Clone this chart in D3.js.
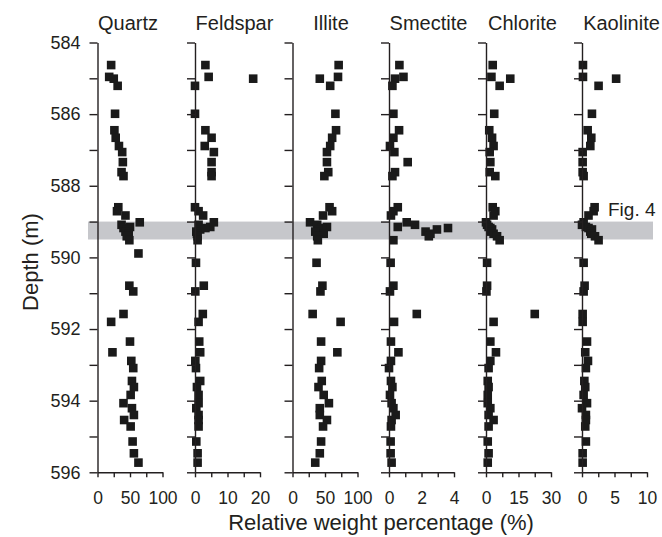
<!DOCTYPE html>
<html>
<head>
<meta charset="utf-8">
<script src="https://cdn.jsdelivr.net/npm/d3@7"></script>
<style>
  html, body { margin: 0; padding: 0; background: #fff; }
  svg { display: block; }
  text { font-family: "Liberation Sans", Arial, Helvetica, sans-serif; fill: #231f20; }
</style>
</head>
<body>
<svg id="chart" width="662" height="537"></svg>
<script>
// ---------------- DATA ----------------
const depths = [
  584.63, 584.96, 585.01, 585.21, 585.99, 586.45, 586.66, 586.89, 587.06, 587.34, 587.62, 587.73,
  588.60, 588.71, 588.83, 589.02, 589.09, 589.15, 589.18, 589.22, 589.28, 589.34, 589.41, 589.52,
  589.89, 590.15, 590.79, 590.95, 591.58, 591.80, 592.35, 592.65, 592.89, 593.09, 593.45, 593.62,
  593.84, 594.07, 594.21, 594.40, 594.54, 594.72, 595.14, 595.47, 595.73
];
const quartz = [
  21, 18, 25, 31, 27, 26, 28, 33, 38, 39, 37, 40,
  32, 30, 43, 65, 37, 50, 40, 45, 43, 48, 45, 49,
  63, null, 49, 55, 40, 21, 50, 23, 52, 55, 53, 56,
  51, 40, 53, 56, 41, 51, 54, 56, 63
];
const feldspar = [
  3.2, 4.2, 17.9, 0, 0, 3.2, 5.1, 3.0, 5.8, 5.1, 5.1, 5.1,
  0, 1.1, 2.5, 5.8, 1.1, 4.7, 3.2, 1.6, 0.4, 0.6, 0.8, 0.8,
  null, 0.3, 2.7, 0.1, 2.4, 1.1, 1.3, 1.6, 0.1, 0.3, 1.6, 0.6,
  1.1, 1.1, 0.4, 1.1, 1.1, 1.1, 0.4, 0.8, 0.8
];
const illite = [
  71, 70, 42, 58, 66, 67, 61, 58, 53, 53, 55, 49,
  57, 61, 47, 27, 38, 53, 45, 40, 35, 48, 38, 39,
  null, 37, 46, 43, 31, 74, 44, 69, 44, 41, 45, 40,
  48, 56, 42, 42, 53, 47, 44, 42, 35
];
const smectite = [
  0.64, 0.89, 0.37, 0.21, 0.27, 0.62, 0.27, 0.06, 0.33, 1.15, 0.37, 0.21,
  0.54, 0.27, 0.12, 1.09, 1.6, 0.54, 3.63, 2.95, 2.25, 2.55, 2.45, 0.27,
  null, 0.1, 0.27, 0.06, 1.71, 0.31, 0.12, 0.58, 0.12, 0.0, 0.12, 0.21,
  0.06, 0.16, 0.27, 0.41, 0.16, 0.12, 0.1, 0.1, 0.16
];
const chlorite = [
  3.1, 2.5, 11.2, 6.3, 3.8, 1.5, 2.8, 3.5, 1.7, 2.0, 1.7, 4.3,
  3.1, 4.3, 3.5, 0, 0.5, 1.2, 2.0, 2.8, 2.3, 3.5, 5.1, 6.3,
  null, 0.5, 0.5, 0.2, 22.5, 3.5, 2.0, 4.6, 2.0, 1.2, 0.8, 1.2,
  0.8, 0.8, 2.0, 1.2, 3.5, 1.2, 0.8, 1.2, 0.8
];
const kaolinite = [
  0.15, 0.15, 5.25, 2.55, 1.53, 0.87, 1.43, 1.28, 0.1, 0.1, 0.1, 0.25,
  1.94, 1.79, 1.0, 0.25, 0, 0.6, 1.0, 1.53, 1.28, 1.43, 2.0, 2.55,
  null, 0.25, 0.4, 0.25, 0.1, 0.1, 0.77, 0.5, 0.92, 0.6, 0.36, 0.5,
  0.25, 0.77, 0, 0.6, 0.6, 0.5, 0.6, 0.1, 0.1
];
const minerals = ["Quartz", "Feldspar", "Illite", "Smectite", "Chlorite", "Kaolinite"];
const seriesValues = [quartz, feldspar, illite, smectite, chlorite, kaolinite];
const xMax = [100, 20, 100, 4, 30, 10];
const xTickStep = [25, 5, 25, 1, 7.5, 2.5];
const xLabelStep = [50, 10, 50, 2, 15, 5];
const depthTicks = d3.range(584, 597, 1);
const depthLabels = [584, 586, 588, 590, 592, 594, 596];
const band = [589.0, 589.5];
const bandLabel = "Fig. 4";
const xTitle = "Relative weight percentage (%)";
const yTitle = "Depth (m)";

// ---------------- LAYOUT ----------------
const panelX = [97.5, 195, 292.5, 389, 486, 582];
const panelW = 65;
const titleShift = [-2, 7, 6, 7, 4, 7];
const svg = d3.select("#chart");
const y = d3.scaleLinear().domain([584, 596]).range([42.5, 472.3]);
const ink = "#231f20";
const isLabel = (d, step) => Math.abs(d / step - Math.round(d / step)) < 1e-6;

// band
svg.append("rect")
  .attr("x", 88).attr("width", 653 - 88)
  .attr("y", y(band[0])).attr("height", y(band[1]) - y(band[0]))
  .attr("fill", "#c6c7cb");
svg.append("text")
  .attr("x", 608).attr("y", 216)
  .attr("font-size", 19)
  .text(bandLabel);

minerals.forEach((name, i) => {
  const x = d3.scaleLinear().domain([0, xMax[i]]).range([panelX[i], panelX[i] + panelW]);
  const g = svg.append("g");

  // points
  const pts = depths.map((d, k) => ({ d, v: seriesValues[i][k] })).filter(p => p.v !== null);
  const s = 8.6;
  g.selectAll("rect.pt").data(pts).enter().append("rect")
    .attr("class", "pt")
    .attr("x", p => x(p.v) - s / 2)
    .attr("y", p => y(p.d) - s / 2)
    .attr("width", s).attr("height", s)
    .attr("fill", "#1a1a1a");

  // y axis
  const yAxis = d3.axisLeft(y)
    .tickValues(depthTicks)
    .tickSize(8).tickSizeOuter(0).tickPadding(9)
    .tickFormat(d => (i === 0 && depthLabels.includes(d)) ? d3.format("d")(d) : "");
  const ya = svg.append("g").attr("transform", `translate(${panelX[i]},0)`).call(yAxis);
  ya.selectAll("path, line").attr("stroke", ink).attr("stroke-width", 1.4);
  ya.selectAll("text").attr("font-size", 18).attr("fill", ink)
    .attr("font-family", "'Liberation Sans', Arial, sans-serif");
  ya.selectAll("text").filter(function () { return this.textContent === ""; }).remove();

  // x axis
  const xt = d3.range(0, xMax[i] + 1e-9, xTickStep[i]);
  const xAxis = d3.axisBottom(x)
    .tickValues(xt)
    .tickSize(5).tickSizeOuter(0)
    .tickFormat(d => isLabel(d, xLabelStep[i]) ? d3.format("d")(d) : "");
  const xa = svg.append("g").attr("transform", `translate(0,${y(596)})`).call(xAxis);
  xa.selectAll("path, line").attr("stroke", ink).attr("stroke-width", 1.4);
  xa.selectAll("text").attr("font-size", 17.5).attr("fill", ink)
    .attr("y", 32).attr("dy", 0)
    .attr("font-family", "'Liberation Sans', Arial, sans-serif");
  xa.selectAll("text").filter(function () { return this.textContent === ""; }).remove();

  // title
  svg.append("text")
    .attr("x", panelX[i] + panelW / 2 + titleShift[i])
    .attr("y", 29.5)
    .attr("text-anchor", "middle")
    .attr("font-size", 20)
    .text(name);
});

svg.append("text")
  .attr("x", 381).attr("y", 530)
  .attr("text-anchor", "middle")
  .attr("font-size", 22)
  .text(xTitle);

svg.append("text")
  .attr("transform", "translate(38,262) rotate(-90)")
  .attr("text-anchor", "middle")
  .attr("font-size", 22)
  .text(yTitle);
</script>
</body>
</html>
